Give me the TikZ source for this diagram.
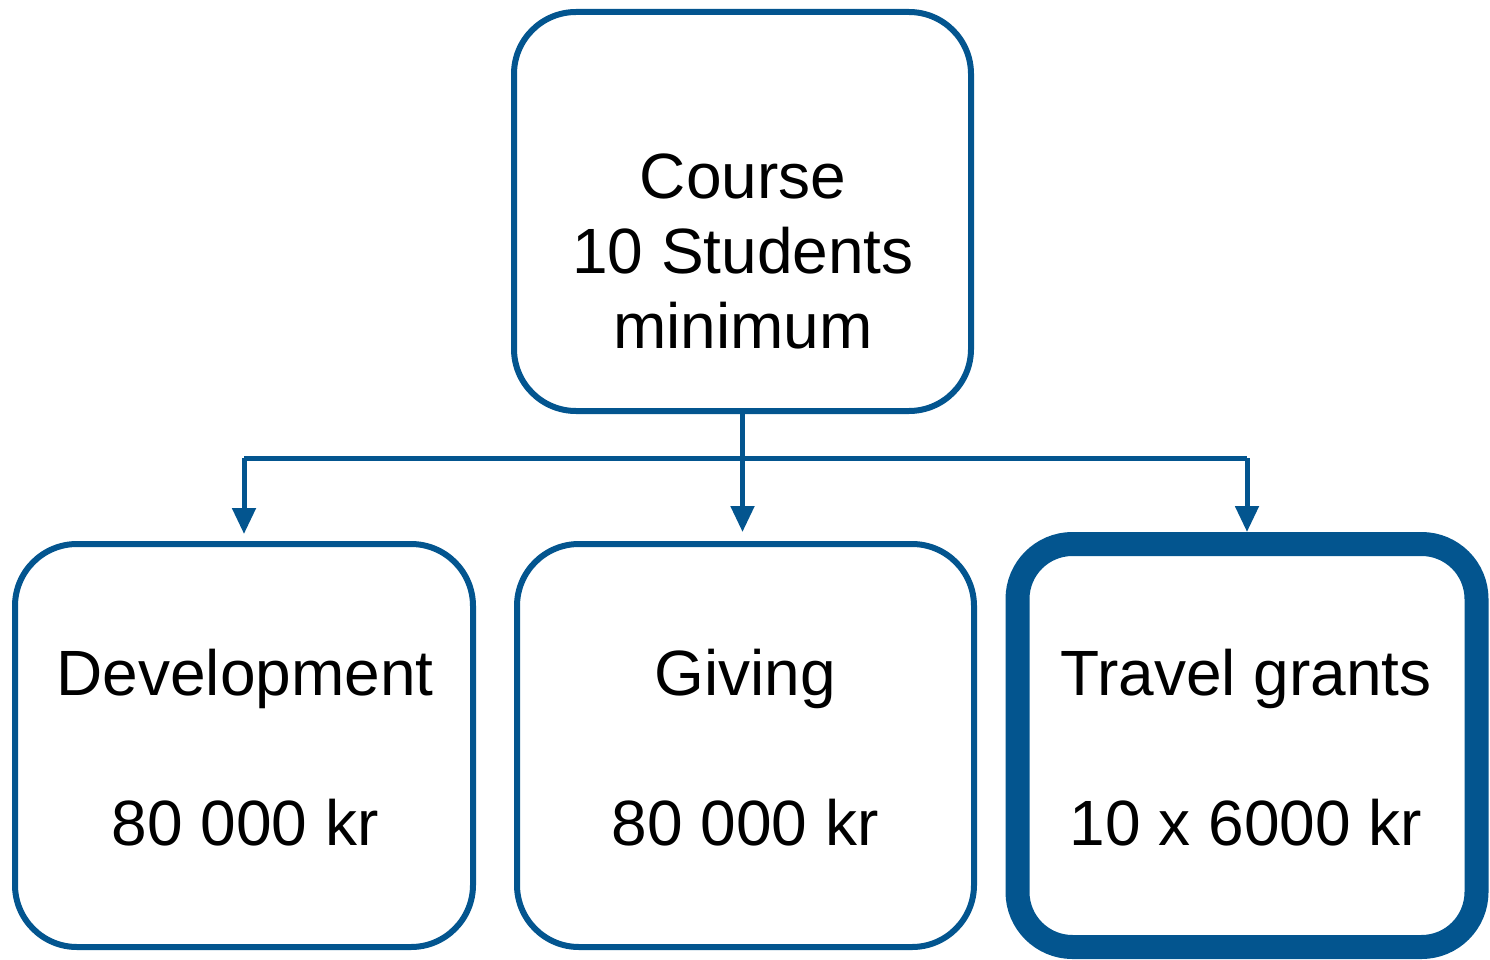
\documentclass[tikz,border=0pt]{standalone}
\usepackage{fontspec}
\setmainfont{Liberation Sans}
\usetikzlibrary{arrows.meta,calc}
\definecolor{boxblue}{HTML}{03558F}
\definecolor{arrblue}{HTML}{1A4F87}
\begin{document}
\begin{tikzpicture}[x=1pt,y=-1pt,
  box/.style={draw=boxblue,line width=6pt,rounded corners=62pt,inner sep=0pt,outer sep=0pt},
  thickbox/.style={draw=boxblue,line width=24pt,rounded corners=55pt,inner sep=0pt,outer sep=0pt},
  txt/.style={font=\fontsize{64}{75}\selectfont,text=black,inner sep=0pt,anchor=base},
  conn/.style={draw=boxblue,line width=5pt},
  arr/.style={conn,-{Triangle[width=23pt,length=26pt]}}]
\useasboundingbox (0,0) rectangle (1490,960);
\node[box,minimum width=457pt,minimum height=399pt] (top) at (742.5,211.5) {};
\node[box,minimum width=458pt,minimum height=403pt] (dev) at (244,544) [anchor=north] {};
\node[box,minimum width=457pt,minimum height=403pt] (giv) at (745.5,544) [anchor=north] {};
\node[thickbox,minimum width=459pt,minimum height=403pt] (trv) at (1247,544) [anchor=north] {};
% texts
\node[txt] (t1) at (743,198) {Course};
\node[txt] (t2) at (743,273) {10 Students};
\node[txt] (t3) at (743,348) {minimum};
\node[txt] (d1) at (245,695) {Development};
\node[txt] (d2) at (245,845) {80 000 kr};
\node[txt] (g1) at (745,695) {Giving};
\node[txt] (g2) at (745,845) {80 000 kr};
\node[txt] (r1) at (1246,695) {Travel grants};
\node[txt] (r2) at (1246,845) {10 x 6000 kr};
% connectors
\coordinate (bus) at (743,458);
\draw[arr,shorten >=12pt] (top.south) -- (top.south |- giv.north);
\draw[conn] (bus -| dev.north) -- (bus -| trv.north);
\draw[arr,shorten >=10pt] (bus -| dev.north) -- (dev.north);
\draw[arr,shorten >=12pt] (bus -| trv.north) -- (trv.north);
\end{tikzpicture}
\end{document}
